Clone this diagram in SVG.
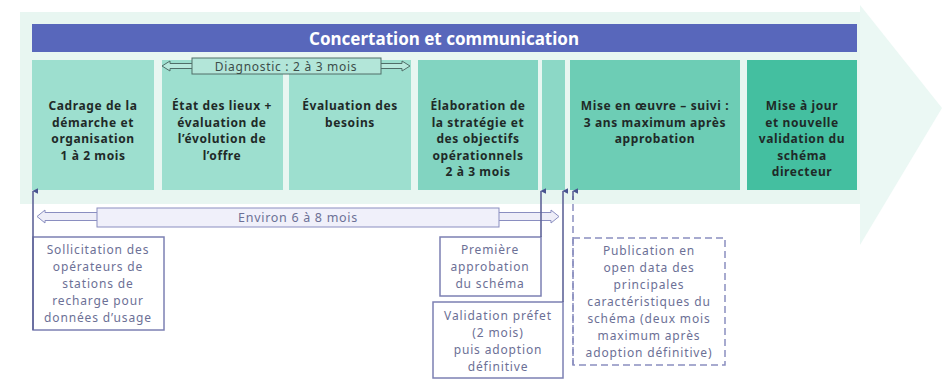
<svg xmlns="http://www.w3.org/2000/svg" width="948" height="382" viewBox="0 0 948 382">
<defs>
<style>
.bt{font-family:"Noto Sans","Open Sans","Liberation Sans",sans-serif;font-weight:700;font-size:12px;letter-spacing:0.6px;fill:#1f2a28;text-anchor:middle}
.st{font-family:"Noto Sans","Open Sans","Liberation Sans",sans-serif;font-size:12px;letter-spacing:0.85px;fill:#6c7096;text-anchor:middle}
.box{stroke:none}
.ob{fill:#ffffff;stroke:#7c80b3;stroke-width:1.5}
.ln{fill:none;stroke:#5f6499;stroke-width:1.6}
.dash{fill:none;stroke:#8a8ec0;stroke-width:1.5;stroke-dasharray:7 4}
</style>
<marker id="ah" viewBox="0 0 10 10" refX="5" refY="1" markerWidth="6" markerHeight="6" orient="auto-start-reverse" markerUnits="userSpaceOnUse">
<path d="M0,10 L5,0 L10,10 Z" fill="#4a5490"/>
</marker>
</defs>
<rect width="948" height="382" fill="#ffffff"/>
<g id="background">
<rect x="20" y="12" width="840" height="192" fill="#e8f6f1"/>
<polygon points="860,5 942,108 860,245" fill="#ebf8f4"/>
</g>
<g id="concertation">
<rect x="32" y="24" width="825" height="28" fill="#5867bb"/>
<text x="444" y="44.5" font-family="'Noto Sans','Open Sans',sans-serif" font-weight="700" font-size="17" fill="#ffffff" text-anchor="middle">Concertation et communication</text>
</g>
<g id="cadrage">
<rect class="box" x="32" y="60" width="122" height="130" fill="#9ddfcf"/>
<text class="bt" x="93" y="110">Cadrage de la</text>
<text class="bt" x="93" y="126.5">démarche et</text>
<text class="bt" x="93" y="143">organisation</text>
<text class="bt" x="93" y="159.5">1 à 2 mois</text>
</g>
<g id="etat-des-lieux">
<rect class="box" x="162" y="60" width="121" height="130" fill="#9ddfcf"/>
<text class="bt" x="222" y="110">État des lieux +</text>
<text class="bt" x="222" y="126.5">évaluation de</text>
<text class="bt" x="222" y="143">l’évolution de</text>
<text class="bt" x="222" y="159.5">l’offre</text>
</g>
<g id="evaluation-besoins">
<rect class="box" x="289" y="60" width="122" height="130" fill="#9ddfcf"/>
<text class="bt" x="350" y="110">Évaluation des</text>
<text class="bt" x="350" y="126.5">besoins</text>
</g>
<g id="elaboration">
<rect class="box" x="418" y="60" width="120" height="130" fill="#82d4c1"/>
<text class="bt" x="478" y="110">Élaboration de</text>
<text class="bt" x="478" y="126.5">la stratégie et</text>
<text class="bt" x="478" y="143">des objectifs</text>
<text class="bt" x="478" y="159.5">opérationnels</text>
<text class="bt" x="478" y="176">2 à 3 mois</text>
</g>
<g id="approbation-phase">
<rect class="box" x="542" y="60" width="23" height="130" fill="#8cd8c6"/>
</g>
<g id="mise-en-oeuvre">
<rect class="box" x="570" y="60" width="170" height="130" fill="#6dcdb5"/>
<text class="bt" x="655" y="110">Mise en œuvre – suivi :</text>
<text class="bt" x="655" y="126.5">3 ans maximum après</text>
<text class="bt" x="655" y="143">approbation</text>
</g>
<g id="mise-a-jour">
<rect class="box" x="747" y="60" width="110" height="130" fill="#44bfa0"/>
<text class="bt" x="802" y="110">Mise à jour</text>
<text class="bt" x="802" y="126.5">et nouvelle</text>
<text class="bt" x="802" y="143">validation du</text>
<text class="bt" x="802" y="159.5">schéma</text>
<text class="bt" x="802" y="176">directeur</text>
</g>
<g id="diagnostic">
<path d="M192,63.5 H170 V61 L162,66 L170,71 V68.5 H192" fill="#b8e9dd" stroke="#506e69" stroke-width="1"/>
<path d="M381,63.5 H402 V61 L410,66 L402,71 V68.5 H381" fill="#b8e9dd" stroke="#506e69" stroke-width="1"/>
<rect x="192" y="58" width="189" height="16" fill="#b3e6d9" stroke="#506e69" stroke-width="1"/>
<text x="286" y="70.5" font-family="'Noto Sans','Open Sans',sans-serif" font-size="12" letter-spacing="0.7" fill="#3c4d49" text-anchor="middle">Diagnostic : 2 à 3 mois</text>
</g>
<g id="environ">
<path d="M97,212.5 H45 V210 L37,216.5 L45,223 V220.5 H97" fill="#eeeef8" stroke="#8a8ec0" stroke-width="1"/>
<path d="M499,212.5 H551 V210 L559,216.5 L551,223 V220.5 H499" fill="#eeeef8" stroke="#8a8ec0" stroke-width="1"/>
<rect x="97" y="208" width="402" height="19" fill="#f0f0fa" stroke="#8a8ec0" stroke-width="1"/>
<text x="298" y="221.5" font-family="'Noto Sans','Open Sans',sans-serif" font-size="12.5" letter-spacing="0.7" fill="#6c7096" text-anchor="middle">Environ 6 à 8 mois</text>
</g>
<g id="sollicitation">
<rect class="ob" x="33" y="237" width="131" height="93"/>
<text class="st" x="98" y="254">Sollicitation des</text>
<text class="st" x="98" y="271">opérateurs de</text>
<text class="st" x="98" y="288">stations de</text>
<text class="st" x="98" y="305">recharge pour</text>
<text class="st" x="98" y="322">données d’usage</text>
</g>
<g id="premiere-approbation">
<rect class="ob" x="440" y="237" width="101" height="59"/>
<text class="st" x="490" y="254">Première</text>
<text class="st" x="490" y="271">approbation</text>
<text class="st" x="490" y="288">du schéma</text>
</g>
<g id="validation-prefet">
<rect class="ob" x="433" y="302" width="130" height="76"/>
<text class="st" x="498" y="320">Validation préfet</text>
<text class="st" x="498" y="337">(2 mois)</text>
<text class="st" x="498" y="354">puis adoption</text>
<text class="st" x="498" y="371">définitive</text>
</g>
<g id="publication">
<rect class="dash" x="573" y="238" width="152" height="127" fill="#ffffff"/>
<text class="st" x="649" y="255">Publication en</text>
<text class="st" x="649" y="272">open data des</text>
<text class="st" x="649" y="289">principales</text>
<text class="st" x="649" y="306">caractéristiques du</text>
<text class="st" x="649" y="323">schéma (deux mois</text>
<text class="st" x="649" y="340">maximum après</text>
<text class="st" x="649" y="357">adoption définitive)</text>
</g>
<g id="connectors">
<line class="ln" x1="33" y1="330" x2="33" y2="191" marker-end="url(#ah)"/>
<line class="ln" x1="541" y1="237" x2="541" y2="191" marker-end="url(#ah)"/>
<line class="ln" x1="563" y1="302" x2="563" y2="191" marker-end="url(#ah)"/>
<line class="dash" x1="573" y1="365" x2="573" y2="196"/>
<line x1="573" y1="200" x2="573" y2="191" stroke="#5f6499" stroke-width="1.6" marker-end="url(#ah)"/>
</g>
</svg>
